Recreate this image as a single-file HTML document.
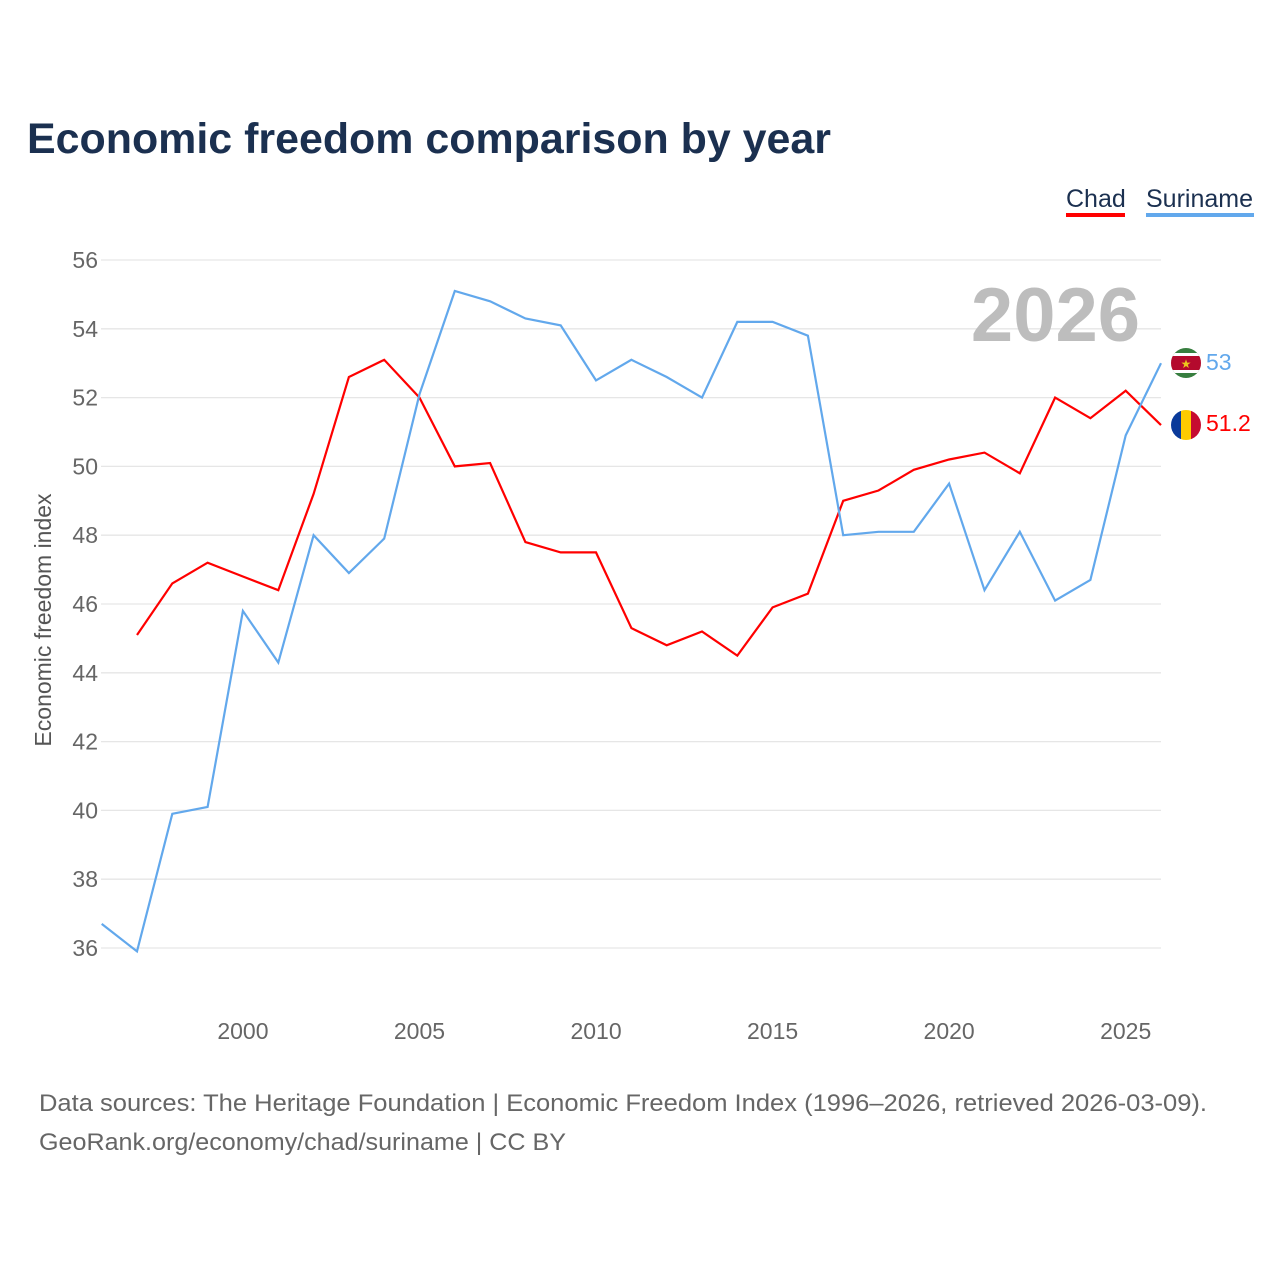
<!DOCTYPE html>
<html><head><meta charset="utf-8">
<style>
body{margin:0;background:#fff;width:1280px;height:1280px;overflow:hidden;font-family:"Liberation Sans",sans-serif}
</style></head>
<body>
<svg id="chart" width="1280" height="1280" xmlns="http://www.w3.org/2000/svg" font-family="Liberation Sans, sans-serif">
<text x="27" y="153" font-size="43" font-weight="bold" fill="#1b3050" textLength="804" lengthAdjust="spacingAndGlyphs">Economic freedom comparison by year</text>
<g><text x="1066" y="207" font-size="25" fill="#1b3050">Chad</text><rect x="1066" y="213" width="59" height="4" fill="#ff0000"/></g>
<g><text x="1146" y="207" font-size="25" fill="#1b3050">Suriname</text><rect x="1146" y="213" width="108" height="4" fill="#62a8ec"/></g>
<g id="grid"></g>
<g id="yticks"></g>
<g id="xticks"></g>
<text transform="translate(51,620) rotate(-90)" text-anchor="middle" font-size="23" fill="#555">Economic freedom index</text>
<text x="1140" y="341" text-anchor="end" font-size="76" font-weight="bold" fill="#bdbdbd">2026</text>
<g id="lines"></g>
<g>
<clipPath id="c1"><circle cx="1186" cy="363" r="15"/></clipPath>
<g clip-path="url(#c1)"><rect x="1170" y="347" width="32" height="32" fill="#377e3f"/><rect x="1170" y="353" width="32" height="20" fill="#fff"/><rect x="1170" y="356" width="32" height="14" fill="#b40a2d"/><text x="1186" y="368" text-anchor="middle" font-size="12" fill="#ecc81d">★</text></g></g>
<g>
<clipPath id="c2"><circle cx="1186" cy="425" r="15"/></clipPath>
<g clip-path="url(#c2)"><rect x="1170" y="409" width="11" height="32" fill="#0a3a9a"/><rect x="1181" y="409" width="10" height="32" fill="#fecb00"/><rect x="1191" y="409" width="12" height="32" fill="#c60c30"/></g></g>
<text x="1206" y="370" font-size="23" fill="#62a8ec">53</text>
<text x="1206" y="431" font-size="23" fill="#ff0000">51.2</text>
<text x="39" y="1111" font-size="24" fill="#666" textLength="1168" lengthAdjust="spacingAndGlyphs">Data sources: The Heritage Foundation | Economic Freedom Index (1996–2026, retrieved 2026-03-09).</text>
<text x="39" y="1150" font-size="24" fill="#666" textLength="527" lengthAdjust="spacingAndGlyphs">GeoRank.org/economy/chad/suriname | CC BY</text>
</svg>
<script>
const years=[1996,1997,1998,1999,2000,2001,2002,2003,2004,2005,2006,2007,2008,2009,2010,2011,2012,2013,2014,2015,2016,2017,2018,2019,2020,2021,2022,2023,2024,2025,2026];
const suriname=[36.7,35.9,39.9,40.1,45.8,44.3,48.0,46.9,47.9,52.1,55.1,54.8,54.3,54.1,52.5,53.1,52.6,52.0,54.2,54.2,53.8,48.0,48.1,48.1,49.5,46.4,48.1,46.1,46.7,50.9,53.0];
const chad=[null,45.1,46.6,47.2,46.8,46.4,49.2,52.6,53.1,52.0,50.0,50.1,47.8,47.5,47.5,45.3,44.8,45.2,44.5,45.9,46.3,49.0,49.3,49.9,50.2,50.4,49.8,52.0,51.4,52.2,51.2];
const yTicks=[36,38,40,42,44,46,48,50,52,54,56];
const xTicks=[2000,2005,2010,2015,2020,2025];
const NS="http://www.w3.org/2000/svg";
const X=v=>101.7+(v-1996)*(1161-101.7)/30;
const Y=v=>948-(v-36)*34.4;
const grid=document.getElementById('grid'),yt=document.getElementById('yticks'),xt=document.getElementById('xticks'),lines=document.getElementById('lines');
yTicks.forEach(t=>{
 const l=document.createElementNS(NS,'line');
 
 
 l.setAttribute('x1',101);l.setAttribute('x2',1161);l.setAttribute('y1',Y(t));l.setAttribute('y2',Y(t));
 l.setAttribute('stroke','#e6e6e6');l.setAttribute('stroke-width','1.3');grid.appendChild(l);
 const tx=document.createElementNS(NS,'text');
 
 
 tx.setAttribute('x',98);tx.setAttribute('y',Y(t)+8);tx.setAttribute('text-anchor','end');
 tx.setAttribute('font-size','23');tx.setAttribute('fill','#666');tx.textContent=t;yt.appendChild(tx);
});
xTicks.forEach(t=>{
 const tx=document.createElementNS(NS,'text');
 
 
 tx.setAttribute('x',X(t));tx.setAttribute('y',1039);tx.setAttribute('text-anchor','middle');
 tx.setAttribute('font-size','23');tx.setAttribute('fill','#666');tx.textContent=t;xt.appendChild(tx);
});
function draw(vals,color,name){
 let d='';vals.forEach((v,i)=>{if(v==null)return;d+=(d?'L':'M')+X(years[i]).toFixed(1)+','+Y(v).toFixed(1);});
 const p=document.createElementNS(NS,'path');
 
 
 p.setAttribute('d',d);p.setAttribute('fill','none');p.setAttribute('stroke',color);p.setAttribute('stroke-width','2.2');
 lines.appendChild(p);
}
draw(chad,'#ff0000','chad-line');
draw(suriname,'#62a8ec','suriname-line');
</script>
</body></html>
